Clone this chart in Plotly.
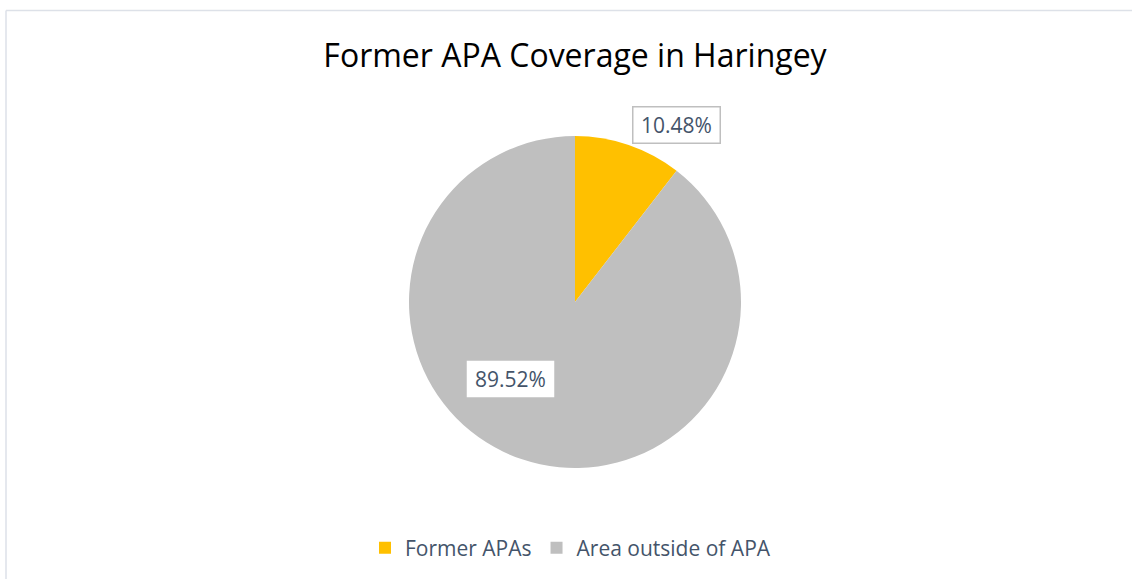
import plotly.graph_objects as go

categories = ["Former APAs", "Area outside of APA"]
shares = [10.48, 89.52]
colors = ["#FFC000", "#BFBFBF"]
label_text = ["10.48%", "89.52%"]

W, H = 1132, 579
cx, cy, r = 575, 302, 166

fig = go.Figure(go.Pie(
    labels=categories,
    values=shares,
    marker=dict(colors=colors, line=dict(width=0)),
    sort=False,
    direction="clockwise",
    rotation=0,
    textinfo="none",
    hoverinfo="label+percent",
    domain=dict(x=[(cx - r) / W, (cx + r) / W], y=[(H - cy - r) / H, (H - cy + r) / H]),
))

label_pos = [(676, 125), (510, 379)]
label_border = ["#BFBFBF", "rgba(0,0,0,0)"]
annotations = []
for txt, (px, py), bc in zip(label_text, label_pos, label_border):
    annotations.append(dict(
        x=px / W, y=1 - py / H, xref="paper", yref="paper",
        text=txt, showarrow=False,
        font=dict(family="Open Sans", size=21, color="#44546A"),
        bgcolor="white", bordercolor=bc, borderwidth=1.5,
        width=82, height=31, borderpad=2,
        xanchor="center", yanchor="middle",
    ))

fig.update_layout(
    width=W, height=H,
    margin=dict(l=0, r=0, t=0, b=0),
    paper_bgcolor="white",
    title=dict(text="Former APA Coverage in Haringey", x=575 / W, y=1 - 56 / H,
               xanchor="center", yanchor="middle",
               font=dict(family="Open Sans", size=32, color="#000000")),
    showlegend=True,
    legend=dict(orientation="h", x=365 / W, y=1 - 548 / H, xanchor="left", yanchor="middle",
                font=dict(family="Open Sans", size=21, color="#44546A"),
                itemwidth=30, traceorder="normal"),
    annotations=annotations,
    shapes=[
        dict(type="line", xref="paper", yref="paper", x0=6 / W, x1=1.0, y0=1 - 10.5 / H, y1=1 - 10.5 / H,
             line=dict(color="#DDE1E8", width=1.5)),
        dict(type="line", xref="paper", yref="paper", x0=6 / W, x1=6 / W, y0=0, y1=1 - 10.5 / H,
             line=dict(color="#DDE1E8", width=1.5)),
    ],
)

fig.write_html("out.html", config={"displayModeBar": False},
               post_script="document.body.style.margin='0';document.body.style.overflow='hidden';")
